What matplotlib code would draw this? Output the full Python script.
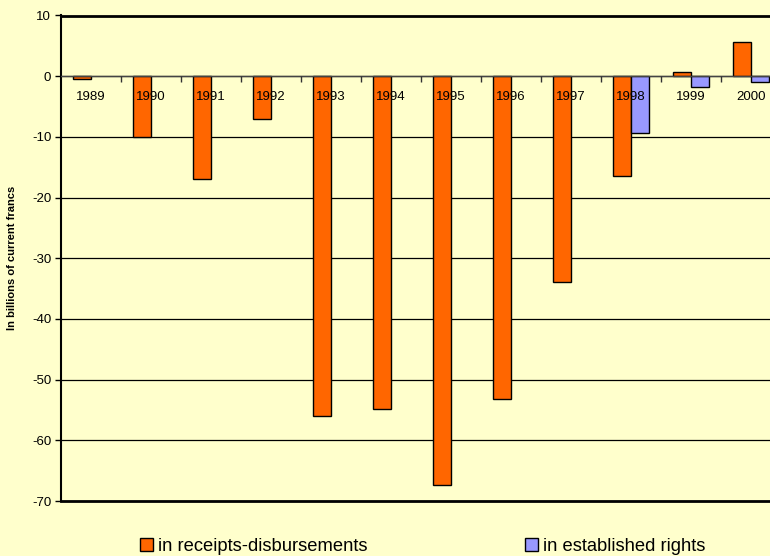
import numpy as np
import matplotlib.pyplot as plt
from matplotlib.patches import Patch
from matplotlib.markers import TICKDOWN

# values (billions of current francs)
years = ["1989", "1990", "1991", "1992", "1993", "1994",
         "1995", "1996", "1997", "1998", "1999", "2000"]
receipts = [-0.5, -10.0, -17.0, -7.0, -56.0, -54.8,
            -67.3, -53.2, -33.9, -16.5, 0.7, 5.6]
# established rights only reported from 1998 on
rights = [np.nan] * 9 + [-9.4, -1.8, -0.9]
y_ticks = list(range(-70, 11, 10))

bg = "#FFFFCC"
orange = "#FF6600"
blue = "#9999FF"

plt.rcParams["font.family"] = ["Liberation Sans", "DejaVu Sans"]
plt.rcParams["axes.unicode_minus"] = False

fig = plt.figure(figsize=(7.7, 5.56), dpi=100, facecolor=bg)
ax = fig.add_axes([61 / 770, 1 - 501 / 556, 720 / 770, (501 - 15.5) / 556])
ax.set_facecolor(bg)

x = np.arange(len(years))
w = 0.3
ax.bar(x - w / 2, receipts, w, color=orange, edgecolor="black", linewidth=1, zorder=3)
ax.bar(x + w / 2, rights, w, color=blue, edgecolor="black", linewidth=1, zorder=3)

ax.set_xlim(-0.5, len(years) - 0.5)
ax.set_ylim(-70, 10)
ax.set_yticks(y_ticks)
ax.tick_params(axis="y", labelsize=9.5, length=4, width=1, pad=3)
for t in y_ticks[1:-1]:
    ax.axhline(t, color="black", linewidth=0.9, zorder=1)

# category axis sits at zero, ticks between categories
ax.axhline(0, color="#444444", linewidth=1, zorder=4)
ax.set_xticks([])
for b in np.arange(0.5, len(years) - 0.5, 1):
    ax.plot([b], [0], marker=TICKDOWN, markersize=4, color="#333333",
            markeredgewidth=1, zorder=4)
for xi, yr in zip(x, years):
    ax.annotate(yr, (xi, 0), xytext=(0, -15), textcoords="offset points",
                ha="center", va="center", fontsize=9.5, zorder=5)

ax.spines["top"].set_linewidth(2)
ax.spines["bottom"].set_linewidth(2)
ax.spines["left"].set_linewidth(1.5)
ax.spines["right"].set_visible(False)

ax.set_ylabel("In billions of current francs", fontsize=8, fontweight="bold")
ax.yaxis.set_label_coords(-44 / 720, 0.5)

handles = [Patch(facecolor=orange, edgecolor="black"),
           Patch(facecolor=blue, edgecolor="black")]
fig.legend(handles, ["in receipts-disbursements", "in established rights"],
           loc="lower center", bbox_to_anchor=(0.549, -0.028), ncol=2, frameon=False,
           fontsize=13.2, handlelength=0.72, handleheight=0.72, handletextpad=0.25,
           columnspacing=8.6)

fig.savefig("out.png", dpi=100, facecolor=bg)
